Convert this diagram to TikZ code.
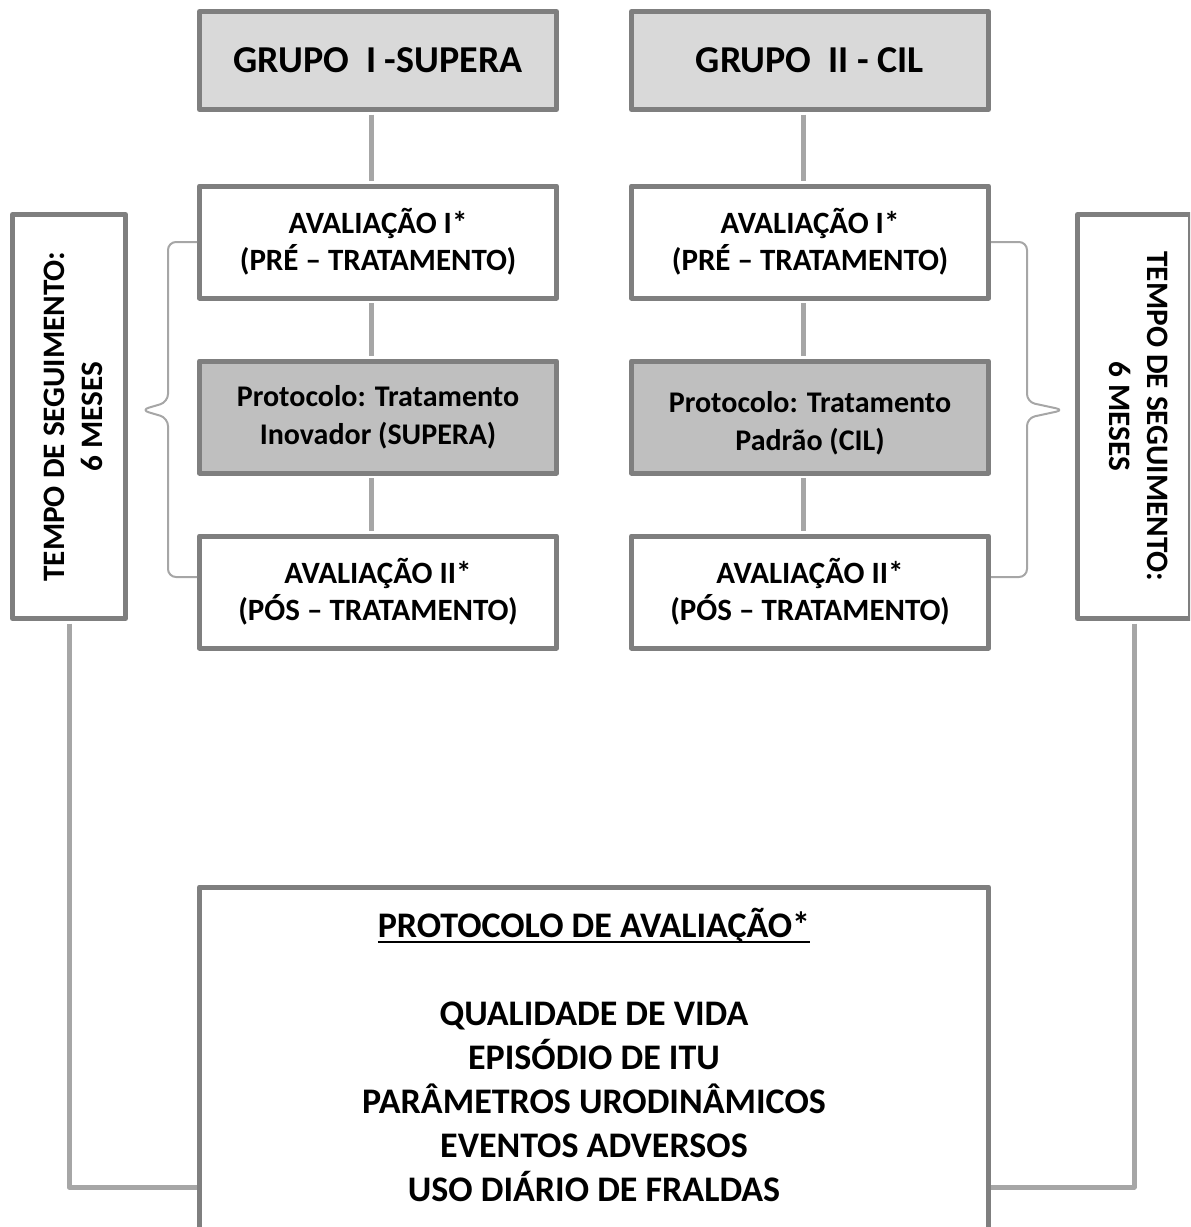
\documentclass[tikz,border=0pt]{standalone}
\usepackage{fontspec}
\setmainfont{Carlito}
\usetikzlibrary{calc}
\definecolor{borda}{HTML}{7F7F7F}
\definecolor{ligcor}{HTML}{A6A6A6}
\definecolor{grupofundo}{HTML}{D9D9D9}
\definecolor{protfundo}{HTML}{BFBFBF}
\newlength\sublen
\newcommand\sublinha[1]{\settowidth\sublen{#1}\rlap{\rule[-2.6pt]{\sublen}{1.1pt}}#1}
\begin{document}
\begin{tikzpicture}[x=0.5pt,y=-0.5pt,line join=round,
	caixa/.style={draw=borda,line width=2.5pt,fill=white,align=center,inner sep=0pt,minimum width=178.5pt,minimum height=56pt},
	grupo/.style={caixa,fill=grupofundo,minimum height=49pt,font=\bfseries\fontsize{19}{23}\selectfont},
	aval/.style={caixa,font=\bfseries\fontsize{15.5}{18.5}\selectfont},
	prot/.style={caixa,fill=protfundo,font=\bfseries\fontsize{15}{19}\selectfont},
	lado/.style={caixa,minimum width=202pt,minimum height=56.5pt,font=\bfseries\fontsize{15.6}{19}\selectfont},
	ligacao/.style={draw=ligcor,line width=2.5pt,shorten <=1.25pt,shorten >=1.25pt},
	chave/.style={draw=ligcor,line width=1pt,rounded corners=4pt}]
	\useasboundingbox (0,0) rectangle (1190,1227);
	\clip (0,0) rectangle (1190,1227);
	% coluna esquerda
	\node[grupo] (g1) at (378,60.5) {GRUPO\ \ I -SUPERA};
	\node[aval] (a1) at (378,242) {AVALIAÇÃO I*\\(PRÉ – TRATAMENTO)};
	\node[prot] (p1) at (378,417) {Protocolo: Tratamento\\Inovador (SUPERA)};
	\node[aval] (b1) at (378,592) {AVALIAÇÃO II*\\(PÓS – TRATAMENTO)};
	% coluna direita
	\node[grupo] (g2) at (810,60.5) {GRUPO\ \ II - CIL};
	\node[aval] (a2) at (810,242) {AVALIAÇÃO I*\\(PRÉ – TRATAMENTO)};
	\node[prot] (p2) at (810,417) {\rule{0pt}{17pt}Protocolo: Tratamento\\Padrão (CIL)};
	\node[aval] (b2) at (810,592) {AVALIAÇÃO II*\\(PÓS – TRATAMENTO)};
	% tempo de seguimento
	\node[lado,rotate=90] (s1) at (69,416.5) {\rule{0pt}{15pt}TEMPO DE SEGUIMENTO:\\6 MESES};
	\node[lado,rotate=-90] (s2) at (1134,416.5) {TEMPO DE SEGUIMENTO:\\6 MESES\rule[-5pt]{0pt}{5pt}};
	% protocolo de avaliacao (cortado embaixo)
	\node[caixa,anchor=north,minimum width=394.5pt,minimum height=178pt,font=\bfseries\fontsize{18}{22}\selectfont] (pa) at (594,884.5)
	{\sublinha{PROTOCOLO DE AVALIAÇÃO*}\\[22pt]QUALIDADE DE VIDA\\EPISÓDIO DE ITU\\PARÂMETROS URODINÂMICOS\\EVENTOS ADVERSOS\\USO DIÁRIO DE FRALDAS\rule[-10pt]{0pt}{10pt}};
	\coordinate (fl) at (199.5,1187);
	\coordinate (fr) at (988.5,1187);
	\foreach \u/\v in {g1/a1,a1/p1,p1/b1,g2/a2,a2/p2,p2/b2}{
		\draw[ligacao] ([xshift=-3.5pt]\u.south) -- ([xshift=-3.5pt]\v.north);}
	\draw[ligacao] (s1.west) |- (fl);
	\draw[ligacao] (s2.east) |- (fr);
	% chaves
	\draw[chave] (a1.west) -- ++(-29,0) -- ++(0,160) -- ++(-27,8) -- ++(27,8) -- ++(0,159) -- ++(29,0);
	\draw[chave] (a2.east) -- ++(36,0) -- ++(0,160) -- ++(37,8) -- ++(-37,8) -- ++(0,159) -- ++(-36,0);
\end{tikzpicture}
\end{document}
